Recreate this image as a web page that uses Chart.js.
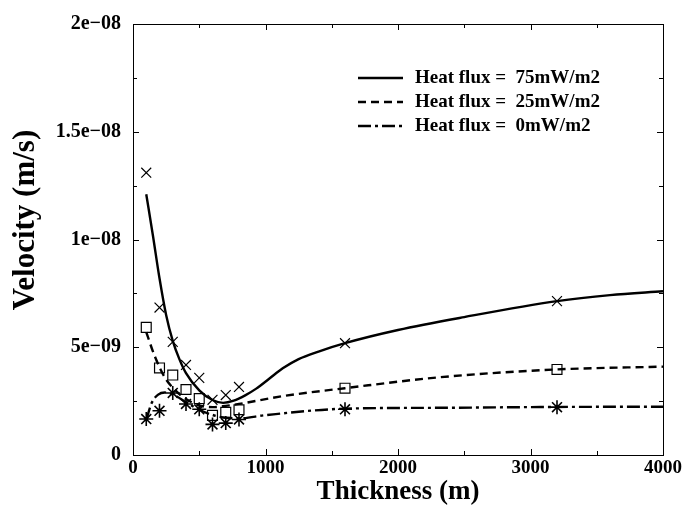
<!DOCTYPE html>
<html>
<head>
<meta charset="utf-8">
<script src="https://cdn.jsdelivr.net/npm/chart.js@4.4.1/dist/chart.umd.min.js"></script>
<style>
body { margin: 0; background: #fff; }
</style>
</head>
<body>
<canvas id="chart" width="684" height="508"></canvas>
<script>
// measured points (markers)
const sampleX = [100, 200, 300, 400, 500, 600, 700, 800, 1600, 3200]
const flux75Points = [13.1e-9, 6.84e-9, 5.25e-9, 4.18e-9, 3.58e-9, 2.56e-9, 2.78e-9, 3.16e-9, 5.19e-9, 7.14e-9]
const flux25Points = [5.92e-9, 4.04e-9, 3.71e-9, 3.04e-9, 2.62e-9, 1.84e-9, 1.98e-9, 2.1e-9, 3.1e-9, 3.97e-9]
const flux0Points = [1.67e-9, 2.05e-9, 2.88e-9, 2.37e-9, 2.12e-9, 1.42e-9, 1.48e-9, 1.65e-9, 2.12e-9, 2.22e-9]

// model curves
const curve75X = [100, 150, 200, 250, 300, 350, 400, 500, 600, 680, 760, 850, 930, 1030, 1130, 1250, 1400, 1600, 2000, 2500, 3200, 3600, 4000]
const curve75Y = [12.1e-9, 10.2e-9, 8.2e-9, 6.5e-9, 5.3e-9, 4.45e-9, 3.8e-9, 3.0e-9, 2.55e-9, 2.42e-9, 2.52e-9, 2.78e-9, 3.08e-9, 3.55e-9, 4.02e-9, 4.45e-9, 4.8e-9, 5.19e-9, 5.8e-9, 6.4e-9, 7.14e-9, 7.42e-9, 7.6e-9]
const curve25X = [100, 160, 240, 320, 400, 500, 600, 700, 800, 1150, 1600, 2300, 3200, 4000]
const curve25Y = [5.7e-9, 4.65e-9, 3.6e-9, 3.0e-9, 2.6e-9, 2.3e-9, 2.22e-9, 2.28e-9, 2.37e-9, 2.75e-9, 3.1e-9, 3.6e-9, 3.97e-9, 4.1e-9]
const curve0X = [100, 140, 190, 240, 320, 400, 500, 600, 680, 800, 1000, 1600, 2300, 3200, 4000]
const curve0Y = [1.62e-9, 2.4e-9, 2.8e-9, 2.9e-9, 2.75e-9, 2.45e-9, 2.1e-9, 1.86e-9, 1.74e-9, 1.7e-9, 1.85e-9, 2.15e-9, 2.19e-9, 2.23e-9, 2.24e-9]

const seriesNames = ["Heat flux =  75mW/m2", "Heat flux =  25mW/m2", "Heat flux =  0mW/m2"]
const yTickLabels = ["0", "5e\u221209", "1e\u221208", "1.5e\u221208", "2e\u221208"]
const xTickLabels = ["0", "1000", "2000", "3000", "4000"]

const FONT = "'Liberation Serif', 'DejaVu Serif', serif"
const dashes = [[], [8, 5], [13, 4, 3, 4]]

function toXY(xs, ys) {
    return xs.map((x, i) => ({ x: x, y: ys[i] }))
}

function curve(name, xs, ys, dash) {
    return {
        label: name,
        type: 'line',
        data: toXY(xs, ys),
        borderColor: '#000',
        borderWidth: 2.4,
        borderDash: dash,
        pointRadius: 0,
        cubicInterpolationMode: 'monotone',
        fill: false
    }
}

function markers(xs, ys, style, width) {
    return {
        label: '',
        type: 'scatter',
        data: toXY(xs, ys),
        pointStyle: style,
        pointRadius: 7,
        borderColor: '#000',
        backgroundColor: 'rgba(0,0,0,0)',
        pointBorderWidth: width,
        showLine: false
    }
}

// frame, inward ticks, key and the y title
const framePlugin = {
    id: 'framePlugin',
    afterDatasetsDraw(chart) {
        const { ctx, chartArea: a, scales } = chart
        ctx.save()
        ctx.strokeStyle = '#000'
        ctx.lineWidth = 1
        ctx.setLineDash([])
        ctx.strokeRect(a.left + 0.5, a.top + 0.5, a.right - a.left, a.bottom - a.top)
        ctx.beginPath()
        scales.x.ticks.forEach(t => {
            const px = Math.round(scales.x.getPixelForValue(t.value)) + 0.5
            const len = t.value % 1000 === 0 ? 6 : 4
            ctx.moveTo(px, a.bottom); ctx.lineTo(px, a.bottom - len)
            ctx.moveTo(px, a.top); ctx.lineTo(px, a.top + len)
        })
        scales.y.ticks.forEach(t => {
            const py = Math.round(scales.y.getPixelForValue(t.value)) + 0.5
            const major = Math.round(t.value / 2.5e-9) % 2 === 0
            const len = major ? 6 : 4
            ctx.moveTo(a.left, py); ctx.lineTo(a.left + len, py)
            ctx.moveTo(a.right, py); ctx.lineTo(a.right - len, py)
        })
        ctx.stroke()

        // key
        ctx.font = "bold 19px " + FONT
        ctx.fillStyle = '#000'
        ctx.textBaseline = 'middle'
        seriesNames.forEach((name, i) => {
            const yy = 78 + i * 24
            ctx.beginPath()
            ctx.lineWidth = 2.4
            ctx.setLineDash(dashes[i])
            ctx.moveTo(358, yy)
            ctx.lineTo(403, yy)
            ctx.stroke()
            ctx.fillText(name, 415, yy)
        })

        // y title
        ctx.translate(26, 220)
        ctx.rotate(-Math.PI / 2)
        ctx.textAlign = 'center'
        ctx.font = "bold 31px " + FONT
        ctx.fillText('Velocity (m/s)', 0, 0)
        ctx.restore()
    }
}

function init() {
    const ctx = document.getElementById('chart').getContext('2d')
    new Chart(ctx, {
        data: {
            datasets: [
                curve(seriesNames[0], curve75X, curve75Y, dashes[0]),
                curve(seriesNames[1], curve25X, curve25Y, dashes[1]),
                curve(seriesNames[2], curve0X, curve0Y, dashes[2]),
                markers(sampleX, flux75Points, 'crossRot', 1.2),
                markers(sampleX, flux25Points, 'rect', 1.2),
                markers(sampleX, flux0Points, 'star', 1.6)
            ]
        },
        options: {
            responsive: false,
            animation: false,
            layout: { padding: { top: 16, right: 20, left: 0, bottom: 0 } },
            plugins: {
                legend: { display: false },
                tooltip: { enabled: false }
            },
            scales: {
                x: {
                    type: 'linear',
                    min: 0,
                    max: 4000,
                    afterFit(scale) { scale.height = 53 },
                    ticks: {
                        stepSize: 500,
                        autoSkip: false,
                        maxRotation: 0,
                        padding: 2,
                        color: '#000',
                        font: { family: FONT, size: 19, weight: 'bold' },
                        callback: v => (v % 1000 === 0 ? xTickLabels[v / 1000] : '')
                    },
                    grid: { display: false, drawTicks: false },
                    border: { display: false },
                    title: {
                        display: true,
                        text: 'Thickness (m)',
                        color: '#000',
                        font: { family: FONT, size: 27, weight: 'bold' },
                        padding: { top: 0, bottom: 0 }
                    }
                },
                y: {
                    type: 'linear',
                    min: 0,
                    max: 2e-8,
                    afterFit(scale) { scale.width = 133 },
                    ticks: {
                        stepSize: 2.5e-9,
                        autoSkip: false,
                        padding: 12,
                        color: '#000',
                        font: { family: FONT, size: 20, weight: 'bold' },
                        callback: v => {
                            const k = Math.round(v / 2.5e-9)
                            return k % 2 === 0 ? yTickLabels[k / 2] : ''
                        }
                    },
                    grid: { display: false, drawTicks: false },
                    border: { display: false },
                    title: { display: false }
                }
            }
        },
        plugins: [framePlugin]
    })
}

init()
</script>
</body>
</html>
